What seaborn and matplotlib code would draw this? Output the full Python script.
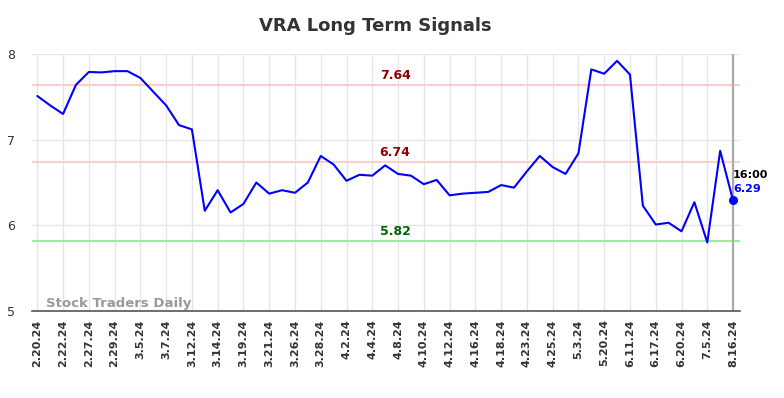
import matplotlib
matplotlib.use("Agg")
import matplotlib.pyplot as plt
import seaborn as sns
import pandas as pd
import numpy as np

tick_labels = ["2.20.24", "2.22.24", "2.27.24", "2.29.24", "3.5.24", "3.7.24", "3.12.24",
               "3.14.24", "3.19.24", "3.21.24", "3.26.24", "3.28.24", "4.2.24", "4.4.24",
               "4.8.24", "4.10.24", "4.12.24", "4.16.24", "4.18.24", "4.23.24", "4.25.24",
               "5.3.24", "5.20.24", "6.11.24", "6.17.24", "6.20.24", "7.5.24", "8.16.24"]

prices = [7.51, 7.40, 7.30, 7.64, 7.79, 7.785, 7.80, 7.80, 7.72, 7.56,
          7.40, 7.17, 7.12, 6.17, 6.41, 6.15, 6.25, 6.50, 6.37, 6.41,
          6.38, 6.50, 6.81, 6.71, 6.52, 6.59, 6.58, 6.70, 6.60, 6.58,
          6.48, 6.53, 6.35, 6.37, 6.38, 6.39, 6.47, 6.44, 6.63, 6.81,
          6.68, 6.60, 6.84, 7.82, 7.77, 7.92, 7.76, 6.23, 6.01, 6.03,
          5.93, 6.27, 5.80, 6.87, 6.29]

levels = [7.64, 6.74, 5.82]
level_line_colors = ["#ffcccc", "#ffcccc", "#99ee99"]
level_text_colors = ["#8b0000", "#8b0000", "#006400"]
last_time = "16:00"

df = pd.DataFrame({"idx": np.arange(len(prices)), "price": prices})

sns.set_style("white")
plt.rcParams['font.family'] = ['DejaVu Sans']

fig = plt.figure(figsize=(7.84, 3.98), dpi=100)
ax = fig.add_axes([32/784, 1-311/398, (740-32)/784, (311-54)/398])

# grid
tick_pos = np.arange(0, len(prices), 2)
for x in tick_pos:
    ax.axvline(x, color="#e6e6e6", lw=1, zorder=0)
for y in [5, 6, 7, 8]:
    ax.axhline(y, color="#e6e6e6", lw=1, zorder=0)

for lv, lc in zip(levels, level_line_colors):
    ax.axhline(lv, color=lc, lw=1.5, zorder=1)

sns.lineplot(data=df, x="idx", y="price", ax=ax, color="#0000ff", lw=1.5, zorder=3)

last_i = len(prices) - 1
ax.axvline(last_i, color="#aaaaaa", lw=1.6, zorder=2)
ax.scatter([last_i], [prices[-1]], color="#0000ff", s=30, zorder=4)

mid_x = 27.77
for lv, tc in zip(levels, level_text_colors):
    ax.text(mid_x, lv + 0.03, f"{lv:.2f}", color=tc, fontsize=9, fontweight="bold",
            ha="center", va="bottom")

ax.text(last_i, prices[-1] + 0.24, last_time, color="#000000", fontsize=8, fontweight="bold",
        ha="left", va="bottom")
ax.text(last_i, prices[-1] + 0.08, f"{prices[-1]:.2f}", color="#0000ff", fontsize=8,
        fontweight="bold", ha="left", va="bottom")

ax.text(0.65, 5.09, "Stock Traders Daily", color="#999999", fontsize=9.5, fontweight="bold",
        ha="left", va="center")

ax.set_xlim(-0.41, last_i + 0.54)
ax.set_ylim(5, 8)
ax.set_yticks([5, 6, 7, 8])
ax.set_yticklabels(["5", "6", "7", "8"], fontsize=9, color="#333333")
ax.set_xticks(tick_pos)
ax.set_xticklabels(tick_labels, rotation=90, fontsize=8, fontweight="bold", color="#333333")
ax.tick_params(axis="both", length=0, pad=6)
ax.tick_params(axis="y", pad=12)
ax.set_xlabel("")
ax.set_ylabel("")
for s in ["top", "right", "left"]:
    ax.spines[s].set_visible(False)
ax.spines["bottom"].set_color("#555555")
ax.spines["bottom"].set_linewidth(1.2)

fig.text(375/784, 1-26/398, "VRA Long Term Signals", ha="center", va="center",
         fontsize=13, fontweight="bold", color="#333333")

fig.savefig("out.png", dpi=100)
